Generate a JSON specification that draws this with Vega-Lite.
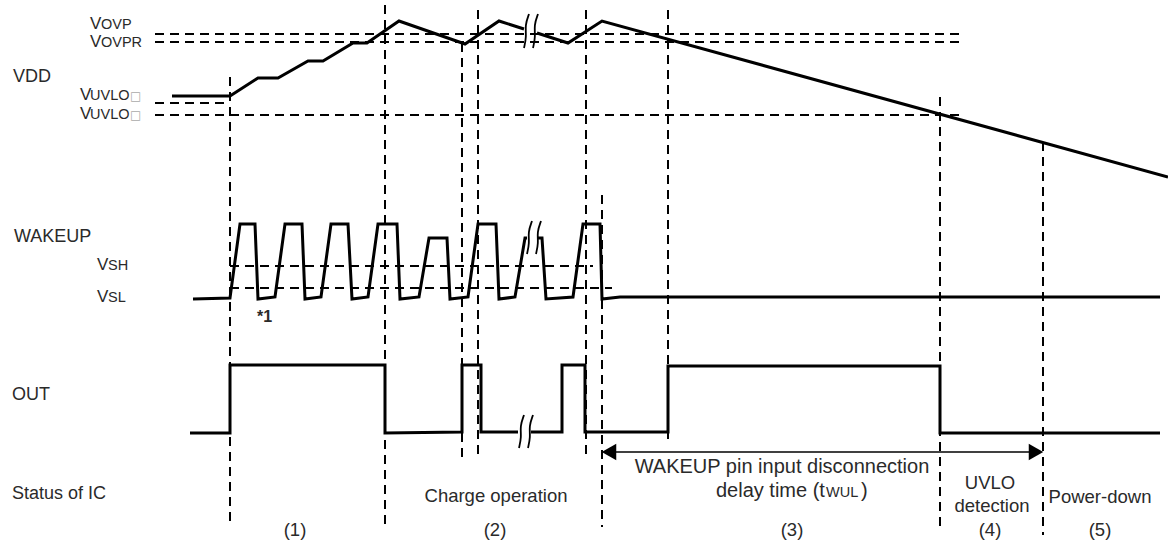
{
  "$schema": "https://vega.github.io/schema/vega-lite/v6.json",
  "width": 1168,
  "height": 548,
  "padding": 0,
  "autosize": {"type": "none"},
  "background": "white",
  "config": {"view": {"stroke": null}, "text": {"font": "Liberation Sans", "color": "#2a2a2a"}},
  "datasets": {
    "dash": [
      {"x": 230, "y": 77, "x2": 230, "y2": 525},
      {"x": 385, "y": 5, "x2": 385, "y2": 530},
      {"x": 462, "y": 43, "x2": 462, "y2": 457},
      {"x": 478, "y": 10, "x2": 478, "y2": 457},
      {"x": 586, "y": 10, "x2": 586, "y2": 457},
      {"x": 602, "y": 195, "x2": 602, "y2": 527},
      {"x": 668, "y": 10, "x2": 668, "y2": 442},
      {"x": 940, "y": 97, "x2": 940, "y2": 532},
      {"x": 1043, "y": 142, "x2": 1043, "y2": 535},
      {"x": 155, "y": 34, "x2": 960, "y2": 34},
      {"x": 155, "y": 42, "x2": 960, "y2": 42},
      {"x": 155, "y": 103, "x2": 230, "y2": 103},
      {"x": 155, "y": 115, "x2": 960, "y2": 115},
      {"x": 230, "y": 266, "x2": 593, "y2": 266},
      {"x": 230, "y": 288, "x2": 612, "y2": 288}
    ],
    "wave": [
      {"seg": "VDD-a", "o": 1, "x": 172, "y": 96},
      {"seg": "VDD-a", "o": 2, "x": 230, "y": 96},
      {"seg": "VDD-a", "o": 3, "x": 258, "y": 78},
      {"seg": "VDD-a", "o": 4, "x": 278, "y": 78},
      {"seg": "VDD-a", "o": 5, "x": 308, "y": 61},
      {"seg": "VDD-a", "o": 6, "x": 323, "y": 61},
      {"seg": "VDD-a", "o": 7, "x": 353, "y": 43},
      {"seg": "VDD-a", "o": 8, "x": 367, "y": 43},
      {"seg": "VDD-a", "o": 9, "x": 399, "y": 21},
      {"seg": "VDD-a", "o": 10, "x": 465, "y": 44},
      {"seg": "VDD-a", "o": 11, "x": 499, "y": 21},
      {"seg": "VDD-a", "o": 12, "x": 524, "y": 29},
      {"seg": "VDD-b", "o": 1, "x": 537, "y": 33},
      {"seg": "VDD-b", "o": 2, "x": 568, "y": 43},
      {"seg": "VDD-b", "o": 3, "x": 602, "y": 21},
      {"seg": "VDD-b", "o": 4, "x": 1168, "y": 177},
      {"seg": "WK-a", "o": 1, "x": 193, "y": 299},
      {"seg": "WK-a", "o": 2, "x": 230, "y": 298},
      {"seg": "WK-a", "o": 3, "x": 240, "y": 224},
      {"seg": "WK-a", "o": 4, "x": 255, "y": 224},
      {"seg": "WK-a", "o": 5, "x": 258, "y": 299},
      {"seg": "WK-a", "o": 6, "x": 275, "y": 297},
      {"seg": "WK-a", "o": 7, "x": 285, "y": 224},
      {"seg": "WK-a", "o": 8, "x": 302, "y": 224},
      {"seg": "WK-a", "o": 9, "x": 305, "y": 299},
      {"seg": "WK-a", "o": 10, "x": 321, "y": 297},
      {"seg": "WK-a", "o": 11, "x": 331, "y": 224},
      {"seg": "WK-a", "o": 12, "x": 348, "y": 224},
      {"seg": "WK-a", "o": 13, "x": 352, "y": 299},
      {"seg": "WK-a", "o": 14, "x": 368, "y": 297},
      {"seg": "WK-a", "o": 15, "x": 378, "y": 224},
      {"seg": "WK-a", "o": 16, "x": 397, "y": 224},
      {"seg": "WK-a", "o": 17, "x": 400, "y": 299},
      {"seg": "WK-a", "o": 18, "x": 419, "y": 297},
      {"seg": "WK-a", "o": 19, "x": 429, "y": 238},
      {"seg": "WK-a", "o": 20, "x": 447, "y": 238},
      {"seg": "WK-a", "o": 21, "x": 450, "y": 299},
      {"seg": "WK-a", "o": 22, "x": 468, "y": 297},
      {"seg": "WK-a", "o": 23, "x": 478, "y": 224},
      {"seg": "WK-a", "o": 24, "x": 496, "y": 224},
      {"seg": "WK-a", "o": 25, "x": 499, "y": 299},
      {"seg": "WK-a", "o": 26, "x": 515, "y": 297},
      {"seg": "WK-a", "o": 27, "x": 525, "y": 238},
      {"seg": "WK-a", "o": 28, "x": 527, "y": 238},
      {"seg": "WK-b", "o": 1, "x": 538, "y": 238},
      {"seg": "WK-b", "o": 2, "x": 542, "y": 238},
      {"seg": "WK-b", "o": 3, "x": 546, "y": 299},
      {"seg": "WK-b", "o": 4, "x": 573, "y": 297},
      {"seg": "WK-b", "o": 5, "x": 583, "y": 224},
      {"seg": "WK-b", "o": 6, "x": 600, "y": 224},
      {"seg": "WK-b", "o": 7, "x": 602, "y": 299},
      {"seg": "WK-b", "o": 8, "x": 620, "y": 297},
      {"seg": "WK-b", "o": 9, "x": 1160, "y": 297},
      {"seg": "OUT-a", "o": 1, "x": 190, "y": 433},
      {"seg": "OUT-a", "o": 2, "x": 230, "y": 433},
      {"seg": "OUT-a", "o": 3, "x": 230, "y": 365},
      {"seg": "OUT-a", "o": 4, "x": 385, "y": 365},
      {"seg": "OUT-a", "o": 5, "x": 385, "y": 433},
      {"seg": "OUT-a", "o": 6, "x": 462, "y": 432},
      {"seg": "OUT-a", "o": 7, "x": 462, "y": 365},
      {"seg": "OUT-a", "o": 8, "x": 481, "y": 365},
      {"seg": "OUT-a", "o": 9, "x": 481, "y": 432},
      {"seg": "OUT-a", "o": 10, "x": 518, "y": 432},
      {"seg": "OUT-b", "o": 1, "x": 531, "y": 432},
      {"seg": "OUT-b", "o": 2, "x": 562, "y": 432},
      {"seg": "OUT-b", "o": 3, "x": 562, "y": 365},
      {"seg": "OUT-b", "o": 4, "x": 585, "y": 365},
      {"seg": "OUT-b", "o": 5, "x": 585, "y": 432},
      {"seg": "OUT-b", "o": 6, "x": 668, "y": 432},
      {"seg": "OUT-b", "o": 7, "x": 668, "y": 366},
      {"seg": "OUT-b", "o": 8, "x": 940, "y": 366},
      {"seg": "OUT-b", "o": 9, "x": 940, "y": 433},
      {"seg": "OUT-b", "o": 10, "x": 1160, "y": 433}
    ],
    "brk": [
      {"c": "v1", "o": 1, "x": 529, "y": 14}, {"c": "v1", "o": 2, "x": 525, "y": 25}, {"c": "v1", "o": 3, "x": 526.5, "y": 37}, {"c": "v1", "o": 4, "x": 524, "y": 48},
      {"c": "v2", "o": 1, "x": 538, "y": 14}, {"c": "v2", "o": 2, "x": 534, "y": 25}, {"c": "v2", "o": 3, "x": 535.5, "y": 37}, {"c": "v2", "o": 4, "x": 533, "y": 48},
      {"c": "w1", "o": 1, "x": 532, "y": 221}, {"c": "w1", "o": 2, "x": 528, "y": 232}, {"c": "w1", "o": 3, "x": 529.5, "y": 243}, {"c": "w1", "o": 4, "x": 527, "y": 254},
      {"c": "w2", "o": 1, "x": 541, "y": 221}, {"c": "w2", "o": 2, "x": 537, "y": 232}, {"c": "w2", "o": 3, "x": 538.5, "y": 243}, {"c": "w2", "o": 4, "x": 536, "y": 254},
      {"c": "o1", "o": 1, "x": 524, "y": 415}, {"c": "o1", "o": 2, "x": 520, "y": 426}, {"c": "o1", "o": 3, "x": 521.5, "y": 437}, {"c": "o1", "o": 4, "x": 519, "y": 448},
      {"c": "o2", "o": 1, "x": 533, "y": 415}, {"c": "o2", "o": 2, "x": 529, "y": 426}, {"c": "o2", "o": 3, "x": 530.5, "y": 437}, {"c": "o2", "o": 4, "x": 528, "y": 448}
    ],
    "arrow": [{"x": 608, "x2": 1037, "y": 452}],
    "heads": [{"x": 609, "y": 452, "dir": "left"}, {"x": 1036, "y": 452, "dir": "right"}],
    "txt": [
      {"cls": "main", "x": 13, "y": 77, "t": "VDD"},
      {"cls": "main", "x": 14, "y": 237, "t": "WAKEUP"},
      {"cls": "main", "x": 12, "y": 395, "t": "OUT"},
      {"cls": "main", "x": 12, "y": 494, "t": "Status of IC"},
      {"cls": "center", "x": 496, "y": 496, "t": "Charge operation"},
      {"cls": "center", "x": 295, "y": 530, "t": "(1)"},
      {"cls": "center", "x": 495, "y": 530, "t": "(2)"},
      {"cls": "center", "x": 792, "y": 530, "t": "(3)"},
      {"cls": "center", "x": 990, "y": 530, "t": "(4)"},
      {"cls": "center", "x": 1100, "y": 530, "t": "(5)"},
      {"cls": "center", "x": 990, "y": 483, "t": "UVLO"},
      {"cls": "center", "x": 992, "y": 506, "t": "detection"},
      {"cls": "center", "x": 1100, "y": 497, "t": "Power-down"},
      {"cls": "big", "x": 782, "y": 467, "t": "WAKEUP pin input disconnection"},
      {"cls": "bigl", "x": 716, "y": 497, "t": "delay time (t"},
      {"cls": "bigl", "x": 861, "y": 497, "t": ")"},
      {"cls": "v", "x": 90, "y": 29, "t": "V"},
      {"cls": "v", "x": 90, "y": 47, "t": "V"},
      {"cls": "v", "x": 80, "y": 100, "t": "V"},
      {"cls": "v", "x": 80, "y": 119, "t": "V"},
      {"cls": "v", "x": 97, "y": 270, "t": "V"},
      {"cls": "v", "x": 97, "y": 302, "t": "V"},
      {"cls": "sub", "x": 101, "y": 29, "t": "OVP"},
      {"cls": "sub", "x": 101, "y": 47, "t": "OVPR"},
      {"cls": "sub", "x": 90, "y": 100, "t": "UVLO"},
      {"cls": "sub", "x": 90, "y": 119, "t": "UVLO"},
      {"cls": "sub", "x": 108, "y": 270, "t": "SH"},
      {"cls": "sub", "x": 108, "y": 302, "t": "SL"},
      {"cls": "sub", "x": 826, "y": 497, "t": "WUL"},
      {"cls": "box", "x": 130, "y": 100, "t": "□"},
      {"cls": "box", "x": 130, "y": 119, "t": "□"},
      {"cls": "note", "x": 257, "y": 322, "t": "*1"}
    ]
  },
  "encoding": {
    "x": {"field": "x", "type": "quantitative", "scale": {"domain": [0, 1168], "nice": false, "zero": false}, "axis": null},
    "y": {"field": "y", "type": "quantitative", "scale": {"domain": [0, 548], "nice": false, "zero": false, "reverse": true}, "axis": null}
  },
  "layer": [
    {
      "data": {"name": "dash"},
      "mark": {"type": "rule", "color": "black", "strokeWidth": 2, "strokeDash": [9, 6]},
      "encoding": {"x2": {"field": "x2"}, "y2": {"field": "y2"}}
    },
    {
      "data": {"name": "wave"},
      "mark": {"type": "line", "color": "black", "strokeWidth": 3, "strokeJoin": "miter", "strokeCap": "butt"},
      "encoding": {"detail": {"field": "seg", "type": "nominal"}, "order": {"field": "o", "type": "quantitative"}}
    },
    {
      "data": {"name": "brk"},
      "mark": {"type": "line", "color": "black", "strokeWidth": 1.8, "interpolate": "basis"},
      "encoding": {"detail": {"field": "c", "type": "nominal"}, "order": {"field": "o", "type": "quantitative"}}
    },
    {
      "data": {"name": "arrow"},
      "mark": {"type": "rule", "color": "black", "strokeWidth": 1.5},
      "encoding": {"x2": {"field": "x2"}}
    },
    {
      "data": {"name": "heads"},
      "mark": {"type": "point", "filled": true, "color": "black", "opacity": 1, "size": 280},
      "encoding": {"shape": {"field": "dir", "type": "nominal", "scale": {"domain": ["left", "right"], "range": ["triangle-left", "triangle-right"]}, "legend": null}}
    },
    {
      "data": {"name": "txt"},
      "transform": [{"filter": "datum.cls === 'main'"}],
      "mark": {"type": "text", "fontSize": 18, "align": "left", "baseline": "middle"},
      "encoding": {"text": {"field": "t"}}
    },
    {
      "data": {"name": "txt"},
      "transform": [{"filter": "datum.cls === 'center'"}],
      "mark": {"type": "text", "fontSize": 18.5, "align": "center", "baseline": "middle"},
      "encoding": {"text": {"field": "t"}}
    },
    {
      "data": {"name": "txt"},
      "transform": [{"filter": "datum.cls === 'big'"}],
      "mark": {"type": "text", "fontSize": 20, "align": "center", "baseline": "middle"},
      "encoding": {"text": {"field": "t"}}
    },
    {
      "data": {"name": "txt"},
      "transform": [{"filter": "datum.cls === 'bigl'"}],
      "mark": {"type": "text", "fontSize": 20, "align": "left", "baseline": "alphabetic"},
      "encoding": {"text": {"field": "t"}}
    },
    {
      "data": {"name": "txt"},
      "transform": [{"filter": "datum.cls === 'v'"}],
      "mark": {"type": "text", "fontSize": 17, "align": "left", "baseline": "alphabetic"},
      "encoding": {"text": {"field": "t"}}
    },
    {
      "data": {"name": "txt"},
      "transform": [{"filter": "datum.cls === 'sub'"}],
      "mark": {"type": "text", "fontSize": 14.5, "align": "left", "baseline": "alphabetic"},
      "encoding": {"text": {"field": "t"}}
    },
    {
      "data": {"name": "txt"},
      "transform": [{"filter": "datum.cls === 'box'"}],
      "mark": {"type": "text", "font": "DejaVu Sans", "fontSize": 12, "align": "left", "baseline": "alphabetic", "color": "#aaa"},
      "encoding": {"text": {"field": "t"}}
    },
    {
      "data": {"name": "txt"},
      "transform": [{"filter": "datum.cls === 'note'"}],
      "mark": {"type": "text", "fontSize": 16, "fontWeight": "bold", "align": "left", "baseline": "alphabetic"},
      "encoding": {"text": {"field": "t"}}
    }
  ]
}
